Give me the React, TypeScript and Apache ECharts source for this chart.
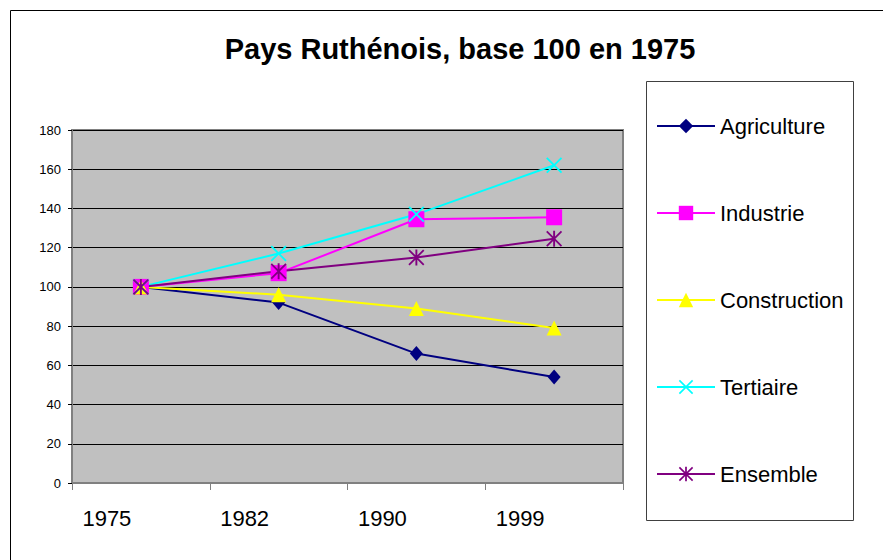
import React, { useEffect, useRef } from "react";
import * as echarts from "echarts";

const titleText = "Pays Ruthénois, base 100 en 1975";
const years = ["1975", "1982", "1990", "1999"];
const seriesNames = ["Agriculture", "Industrie", "Construction", "Tertiaire", "Ensemble"];
const agriculture = [100, 92, 66, 54];
const industrie = [100, 107, 134.5, 135.5];
const construction = [100, 96, 89, 79];
const tertiaire = [100, 117, 137, 162];
const ensemble = [100, 108, 115, 124.5];
const yMin = 0;
const yMax = 180;
const yStep = 20;

const FONT = '"Liberation Sans", Arial, sans-serif';

const X_PATH =
  "path://M0,0.8 L0.8,0 L5,4.2 L9.2,0 L10,0.8 L5.8,5 L10,9.2 L9.2,10 L5,5.8 L0.8,10 L0,9.2 L4.2,5 Z";
const STAR_PATH =
  "path://M0,0.8 L0.8,0 L5,4.2 L9.2,0 L10,0.8 L5.8,5 L10,9.2 L9.2,10 L5,5.8 L0.8,10 L0,9.2 L4.2,5 Z M4.4,0 L5.6,0 L5.6,10 L4.4,10 Z";

export default function App() {
  const ref = useRef<HTMLDivElement>(null);

  useEffect(() => {
    if (!ref.current) return;
    const chart = echarts.init(ref.current, null, { renderer: "svg" });

    const mk = (
      name: string,
      data: number[],
      color: string,
      symbol: string,
      symbolSize: number | number[]
    ) => ({
      name,
      type: "line",
      data,
      symbol,
      symbolSize,
      showSymbol: true,
      lineStyle: { color, width: 2 },
      itemStyle: { color, borderWidth: 0 },
      emphasis: { disabled: true },
    });

    chart.setOption({
      animation: false,
      backgroundColor: "#ffffff",
      title: {
        text: titleText,
        left: 455,
        textAlign: "center",
        top: 28,
        textStyle: {
          fontFamily: FONT,
          fontSize: 29,
          fontWeight: "bold",
          color: "#000",
          lineHeight: 32,
        },
      },
      graphic: [
        {
          type: "rect",
          shape: { x: 10.5, y: 10.5, width: 1000, height: 1000 },
          style: { fill: "none", stroke: "#000", lineWidth: 1 },
          silent: true,
        },
        {
          type: "rect",
          shape: { x: 646.5, y: 81.5, width: 207, height: 439 },
          style: { fill: "none", stroke: "#404040", lineWidth: 1 },
          silent: true,
        },
      ],
      legend: {
        data: seriesNames,
        orient: "vertical",
        left: 656,
        top: 115,
        padding: 0,
        itemWidth: 58,
        itemHeight: 18,
        itemGap: 65,
        selectedMode: false,
        textStyle: {
          fontFamily: FONT,
          fontSize: 22,
          color: "#000",
          lineHeight: 22,
        },
      },
      grid: {
        left: 72,
        top: 130,
        right: 260,
        bottom: 77,
        show: true,
        backgroundColor: "#C0C0C0",
        borderColor: "#808080",
        borderWidth: 2,
      },
      xAxis: {
        type: "category",
        data: years,
        boundaryGap: true,
        axisLine: { show: true, lineStyle: { color: "#808080", width: 2 } },
        axisTick: {
          show: true,
          alignWithLabel: false,
          length: 7,
          lineStyle: { color: "#808080", width: 1 },
        },
        axisLabel: {
          fontFamily: FONT,
          fontSize: 22,
          color: "#000",
          margin: 24,
          lineHeight: 22,
          padding: [0, 68, 0, 0],
        },
        splitLine: { show: false },
      },
      yAxis: {
        type: "value",
        min: yMin,
        max: yMax,
        interval: yStep,
        axisLine: { show: true, lineStyle: { color: "#808080", width: 2 } },
        axisTick: { show: true, length: 4, lineStyle: { color: "#000", width: 1 } },
        axisLabel: {
          fontFamily: FONT,
          fontSize: 13,
          color: "#000",
          margin: 11,
        },
        splitLine: { show: true, lineStyle: { color: "#000", width: 1 } },
      },
      series: [
        mk(seriesNames[0], agriculture, "#000080", "diamond", [13, 15]),
        mk(seriesNames[1], industrie, "#FF00FF", "rect", 16),
        mk(seriesNames[2], construction, "#FFFF00", "triangle", 15),
        mk(seriesNames[3], tertiaire, "#00FFFF", X_PATH, 16),
        mk(seriesNames[4], ensemble, "#800080", STAR_PATH, 16),
      ],
    });

    return () => {
      chart.dispose();
    };
  }, []);

  return (
    <div
      ref={ref}
      style={{ position: "fixed", left: 0, top: 0, width: 883, height: 560 }}
    />
  );
}
